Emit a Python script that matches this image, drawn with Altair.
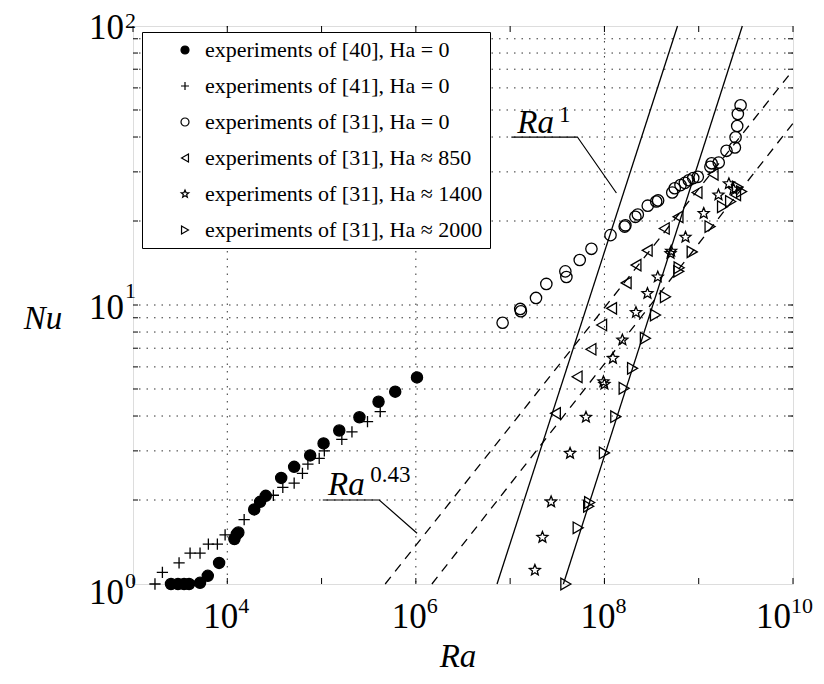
import altair as alt
import pandas as pd

# ---------------- data ----------------
SERIES = [
    "experiments of [40], Ha = 0",
    "experiments of [41], Ha = 0",
    "experiments of [31], Ha = 0",
    "experiments of [31], Ha ≈ 850",
    "experiments of [31], Ha ≈ 1400",
    "experiments of [31], Ha ≈ 2000",
]

ra40 = [2530, 3000, 3480, 3930, 5140, 6210, 8190, 11900, 12600, 13100, 19300, 22300,
        25600, 37300, 51200, 75700, 105000, 154000, 252000, 402000, 604000, 1028000]
nu40 = [1.0, 1.0, 1.0, 1.0, 1.01, 1.07, 1.19, 1.45, 1.51, 1.53, 1.85, 1.97,
        2.07, 2.40, 2.63, 2.89, 3.19, 3.55, 3.96, 4.50, 4.89, 5.50]

ra41 = [1710, 2050, 3080, 4030, 5140, 6300, 7850, 9480, 15100, 30800, 38800, 51200,
        62700, 71600, 94400, 107000, 164000, 210000, 307000, 419000]
nu41 = [1.0, 1.10, 1.19, 1.29, 1.29, 1.39, 1.39, 1.50, 1.70, 2.08, 2.22, 2.30,
        2.49, 2.69, 2.82, 3.00, 3.30, 3.51, 3.82, 4.15]

ra31_0 = [8.32e6, 1.28e7, 1.30e7, 1.88e7, 2.42e7, 3.85e7, 3.95e7, 5.47e7, 7.28e7, 1.16e8,
          1.64e8, 1.67e8, 2.13e8, 2.26e8, 2.88e8, 3.54e8, 3.71e8, 5.24e8, 5.57e8, 6.41e8,
          7.13e8, 7.85e8, 8.75e8, 9.78e8, 1.33e9, 1.37e9, 1.63e9, 1.97e9, 2.42e9, 2.46e9,
          2.56e9, 2.60e9, 2.78e9]
nu31_0 = [8.64, 9.68, 9.5, 10.6, 11.9, 13.2, 12.6, 14.5, 15.9, 17.8,
          19.1, 19.3, 20.7, 21.1, 22.7, 23.5, 23.7, 25.3, 26.2, 26.9,
          27.4, 28.0, 28.5, 28.8, 31.3, 32.2, 32.4, 35.7, 36.7, 39.9,
          43.8, 48.4, 52.0]

ra850 = [3.02e7, 5.13e7, 7.19e7, 9.34e7, 1.19e8, 1.70e8, 2.16e8, 2.84e8, 4.31e8, 6.03e8,
         9.59e8, 1.42e9, 2.46e9]
nu850 = [4.09, 5.53, 6.94, 8.48, 9.73, 12.0, 13.9, 15.7, 18.8, 20.7, 25.3, 29.4, 24.8]

ra1400 = [1.83e7, 2.20e7, 2.72e7, 4.32e7, 6.37e7, 9.76e7, 1.0e8, 1.23e8, 1.55e8, 2.16e8,
          2.86e8, 3.68e8, 5.02e8, 5.1e8, 7.24e8, 1.13e9, 1.62e9, 2.09e9, 2.34e9]
nu1400 = [1.12, 1.47, 1.97, 2.94, 3.96, 5.31, 5.2, 6.44, 7.49, 9.40,
          11.0, 12.6, 15.3, 15.6, 17.5, 21.3, 24.8, 27.2, 26.0]

ra2000 = [3.90e7, 5.27e7, 6.81e7, 6.97e7, 1.0e8, 1.32e8, 1.62e8, 1.99e8, 2.72e8, 3.48e8,
          4.44e8, 6.15e8, 6.2e8, 8.53e8, 1.32e9, 1.79e9, 2.18e9, 2.58e9, 2.85e9]
nu2000 = [1.0, 1.59, 1.90, 1.96, 2.95, 3.98, 5.03, 5.93, 7.60, 9.21,
          10.7, 13.2, 13.6, 15.5, 19.1, 22.5, 23.5, 26.5, 25.5]

# fitted power-law guide lines (end points)
solid_id = ["a", "a", "b", "b"]
solid_ra = [7.26e6, 5.96e8, 3.67e7, 2.90e9]
solid_nu = [1.0, 100.0, 1.0, 100.0]

dash_id = ["c", "c", "d", "d"]
dash_ra = [4.73e5, 1.0e10, 1.48e6, 1.0e10]
dash_nu = [1.0, 69.5, 1.0, 44.8]

# annotation leaders
lead_id = ["r1", "r1", "r1", "r043", "r043", "r043"]
lead_k = [0, 1, 2, 0, 1, 2]
lead_ra = [1.03e7, 5.17e7, 1.34e8, 1.03e5, 4.09e5, 1.03e6]
lead_nu = [40.0, 40.0, 25.2, 2.0, 2.0, 1.52]

ann_base_ra = [1.19e7, 1.17e5]
ann_base_nu = [41.3, 2.08]
ann_sup_ra = [3.3e7, 3.28e5]
ann_sup_nu = [45.3, 2.32]
ann_sup_txt = ["1", "0.43"]

# axes
x_decades = [1e3, 1e4, 1e5, 1e6, 1e7, 1e8, 1e9, 1e10]
x_grid = [1e4, 1e6, 1e8]
x_lab_val = [1e4, 1e6, 1e8, 1e10]
x_lab_exp = ["4", "6", "8", "10"]
y_minor = [2, 3, 4, 5, 6, 7, 8, 9, 10, 20, 30, 40, 50, 60, 70, 80, 90]
y_lab_val = [1, 10, 100]
y_lab_exp = ["0", "1", "2"]

# ---------------- build tables ----------------
frames = []
for name, ra, nu in zip(SERIES, [ra40, ra41, ra31_0, ra850, ra1400, ra2000],
                        [nu40, nu41, nu31_0, nu850, nu1400, nu2000]):
    frames.append(pd.DataFrame({"Ra": ra, "Nu": nu, "series": name}))
pts = pd.concat(frames, ignore_index=True)

solid_df = pd.DataFrame({"Ra": solid_ra, "Nu": solid_nu, "id": solid_id})
dash_df = pd.DataFrame({"Ra": dash_ra, "Nu": dash_nu, "id": dash_id})
lead_df = pd.DataFrame({"Ra": lead_ra, "Nu": lead_nu, "id": lead_id, "k": lead_k})
ann_base_df = pd.DataFrame({"Ra": ann_base_ra, "Nu": ann_base_nu, "t": ["Ra", "Ra"]})
ann_sup_df = pd.DataFrame({"Ra": ann_sup_ra, "Nu": ann_sup_nu, "t": ann_sup_txt})

W, H = 660, 558
FONT = "Liberation Serif"

xs = alt.Scale(type="log", domain=[1e3, 1e10], nice=False)
ys = alt.Scale(type="log", domain=[1, 100], nice=False)
X = alt.X("Ra:Q", scale=xs, axis=None)
Y = alt.Y("Nu:Q", scale=ys, axis=None)

plus_path = "M-1,0L1,0M0,-1L0,1"
star_path = ("M0,-1L0.26,-0.36L0.95,-0.31L0.42,0.14L0.59,0.81L0,0.44"
             "L-0.59,0.81L-0.42,0.14L-0.95,-0.31L-0.26,-0.36Z")
shapes = ["circle", plus_path, "circle", "triangle-left", star_path, "triangle-right"]
fills = ["black", "transparent", "transparent", "transparent", "transparent", "transparent"]
strokes = ["black"] * 6
sizes = [85, 115, 160, 135, 125, 135]

leg = alt.Legend(
    title=None, orient="none", legendX=9, legendY=6,
    padding=7, symbolOffset=25, labelOffset=9, rowPadding=14,
    labelFont=FONT, labelFontSize=22, labelColor="black", labelLimit=500,
    symbolSize=64, symbolStrokeWidth=1.2,
    strokeColor="black", fillColor="white",
)

grid_x = alt.Chart(pd.DataFrame({"v": x_grid})).mark_rule(
    color="#333", strokeWidth=1, strokeDash=[1.5, 6]).encode(x=alt.X("v:Q", scale=xs, axis=None))
grid_y = alt.Chart(pd.DataFrame({"v": y_minor})).mark_rule(
    color="#333", strokeWidth=1, strokeDash=[1.5, 6]).encode(y=alt.Y("v:Q", scale=ys, axis=None))

xt = pd.DataFrame({"v": x_decades})
tick_xb = alt.Chart(xt).mark_rule(color="black").encode(
    x=alt.X("v:Q", scale=xs, axis=None), y=alt.value(H), y2=alt.value(H - 6))
tick_xt = alt.Chart(xt).mark_rule(color="black").encode(
    x=alt.X("v:Q", scale=xs, axis=None), y=alt.value(0), y2=alt.value(6))
yt = pd.DataFrame({"v": y_minor})
tick_yl = alt.Chart(yt).mark_rule(color="black").encode(
    y=alt.Y("v:Q", scale=ys, axis=None), x=alt.value(0), x2=alt.value(5))
tick_yr = alt.Chart(yt).mark_rule(color="black").encode(
    y=alt.Y("v:Q", scale=ys, axis=None), x=alt.value(W), x2=alt.value(W - 5))

solid = alt.Chart(solid_df).mark_line(color="black", strokeWidth=1.3).encode(
    x=X, y=Y, detail="id:N")
dashed = alt.Chart(dash_df).mark_line(color="black", strokeWidth=1.3, strokeDash=[9, 7]).encode(
    x=X, y=Y, detail="id:N")
leaders = alt.Chart(lead_df).mark_line(color="black", strokeWidth=1.2).encode(
    x=X, y=Y, detail="id:N", order="k:Q")

ann_base = alt.Chart(ann_base_df).mark_text(
    font=FONT, fontStyle="italic", fontSize=33, align="left", baseline="alphabetic", color="black"
).encode(x=X, y=Y, text="t:N")
ann_sup = alt.Chart(ann_sup_df).mark_text(
    font=FONT, fontSize=23, align="left", baseline="alphabetic", color="black"
).encode(x=X, y=Y, text="t:N")

# size scale uses the same categories in another order so that its (hidden)
# legend is not merged with the shape/fill/stroke legend
size_domain = SERIES[::-1]
size_range = sizes[::-1]

points = alt.Chart(pts).mark_point(filled=True, strokeWidth=1.3, opacity=1).encode(
    x=X, y=Y,
    shape=alt.Shape("series:N", scale=alt.Scale(domain=SERIES, range=shapes), legend=leg),
    fill=alt.Fill("series:N", scale=alt.Scale(domain=SERIES, range=fills), legend=leg),
    stroke=alt.Stroke("series:N", scale=alt.Scale(domain=SERIES, range=strokes), legend=leg),
    size=alt.Size("series:N", scale=alt.Scale(domain=size_domain, range=size_range), legend=None),
)

# tick labels (10 with superscript exponent), centred as a whole on the tick
xl = pd.DataFrame({"v": x_lab_val, "e": x_lab_exp, "b": ["10"] * 4})
xl_base1 = alt.Chart(xl).transform_filter("datum.v < 1e10").mark_text(
    font=FONT, fontSize=35, align="right", baseline="alphabetic", dx=11, color="black"
).encode(x=alt.X("v:Q", scale=xs, axis=None), y=alt.value(H + 44), text="b:N")
xl_exp1 = alt.Chart(xl).transform_filter("datum.v < 1e10").mark_text(
    font=FONT, fontSize=22, align="left", baseline="alphabetic", dx=11, color="black"
).encode(x=alt.X("v:Q", scale=xs, axis=None), y=alt.value(H + 29), text="e:N")
xl_base2 = alt.Chart(xl).transform_filter("datum.v >= 1e10").mark_text(
    font=FONT, fontSize=35, align="right", baseline="alphabetic", dx=-2, color="black"
).encode(x=alt.X("v:Q", scale=xs, axis=None), y=alt.value(H + 44), text="b:N")
xl_exp2 = alt.Chart(xl).transform_filter("datum.v >= 1e10").mark_text(
    font=FONT, fontSize=22, align="left", baseline="alphabetic", dx=-2, color="black"
).encode(x=alt.X("v:Q", scale=xs, axis=None), y=alt.value(H + 29), text="e:N")

yl = pd.DataFrame({"v": y_lab_val, "e": y_lab_exp, "b": ["10"] * 3})
ylayers = []
for val, dyb, dye in [(1, 20, 4), (10, 14, -7), (100, 13, 2)]:
    ylayers.append(alt.Chart(yl).transform_filter(f"datum.v == {val}").mark_text(
        font=FONT, fontSize=35, align="right", baseline="alphabetic", dy=dyb, color="black"
    ).encode(y=alt.Y("v:Q", scale=ys, axis=None), x=alt.value(-9), text="b:N"))
    ylayers.append(alt.Chart(yl).transform_filter(f"datum.v == {val}").mark_text(
        font=FONT, fontSize=22, align="left", baseline="alphabetic", dy=dye, color="black"
    ).encode(y=alt.Y("v:Q", scale=ys, axis=None), x=alt.value(-8), text="e:N"))

y_title = alt.Chart(pd.DataFrame({"t": ["Nu"]})).mark_text(
    font=FONT, fontStyle="italic", fontSize=33, align="center", baseline="alphabetic", color="black"
).encode(x=alt.value(-90), y=alt.value(303), text="t:N")
x_title = alt.Chart(pd.DataFrame({"t": ["Ra"]})).mark_text(
    font=FONT, fontStyle="italic", fontSize=33, align="center", baseline="alphabetic", color="black"
).encode(x=alt.value(325), y=alt.value(641), text="t:N")

chart = alt.layer(
    grid_x, grid_y, tick_xb, tick_xt, tick_yl, tick_yr,
    dashed, solid, leaders, ann_base, ann_sup, points,
    xl_base1, xl_exp1, xl_base2, xl_exp2, *ylayers, y_title, x_title,
).properties(
    width=W, height=H,
    autosize=alt.AutoSizeParams(type="none"),
    padding={"left": 125, "top": 18, "right": 23, "bottom": 92},
).configure_view(stroke="black", strokeWidth=1.6).configure(background="white")

chart.save("out.html", embed_options={"renderer": "svg", "actions": False})
